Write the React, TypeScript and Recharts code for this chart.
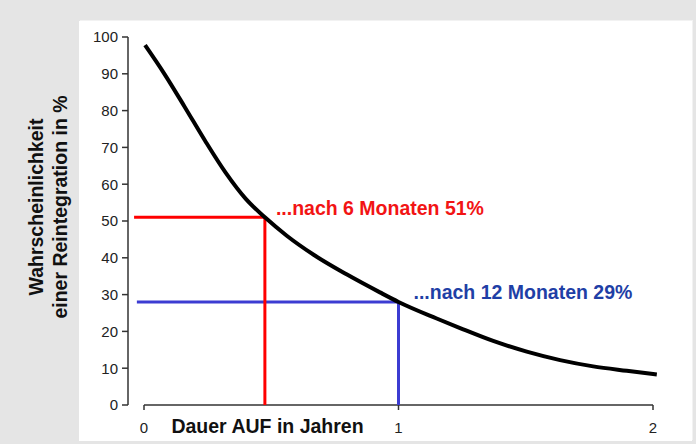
import { ComposedChart, Line, XAxis, YAxis, ReferenceLine, ReferenceDot } from "recharts";

// Dauer der Arbeitsunfähigkeit (Jahre) vs. Wahrscheinlichkeit einer Reintegration (%)
const YEARS = [0.004, 0.08, 0.16, 0.24, 0.32, 0.4, 0.475, 0.561, 0.665, 0.796, 0.927, 1.0, 1.15, 1.242, 1.372, 1.504, 1.635, 1.765, 1.897, 2.015];
const PERCENT = [97.8, 90.0, 81.0, 71.8, 63.2, 56.0, 51.0, 46.0, 40.9, 35.5, 30.6, 28.0, 23.5, 20.9, 17.4, 14.5, 12.2, 10.5, 9.3, 8.3];

const X_TICKS = [0, 1, 2];
const Y_TICKS = [0, 10, 20, 30, 40, 50, 60, 70, 80, 90, 100];

// markers: 6 and 12 months
const MARK_YEARS = [0.475, 1.0];
const MARK_PERCENT = [51, 28];
const MARK_LINE_START = [-0.039, -0.028];
const MARK_TEXT = ["...nach 6 Monaten 51%", "...nach 12 Monaten 29%"];
const MARK_LINE_COLOR = ["#ff0000", "#3c3cd2"];
const MARK_TEXT_COLOR = ["#f21414", "#1f3fa6"];
const MARK_TEXT_OFFSET = [
	[11, -2],
	[15, -3],
];

const FONT = '"Liberation Sans", Arial, Helvetica, sans-serif';
const PX_PER_YEAR = 254.5;

const data = YEARS.map((year, i) => ({ year, pct: PERCENT[i] }));

function YLabel({ viewBox }: any) {
	const x0 = viewBox?.x ?? 80;
	const cy = (viewBox?.y ?? 37) + (viewBox?.height ?? 368) / 2 - 14;
	const line = (x: number, text: string) => (
		<text
			x={x}
			y={cy}
			transform={`rotate(-90, ${x}, ${cy})`}
			textAnchor="middle"
			fontSize={19.5}
			fontWeight="bold"
			fill="#111"
			fontFamily={FONT}
		>
			{text}
		</text>
	);
	return (
		<g>
			{line(x0 - 37, "Wahrscheinlichkeit")}
			{line(x0 - 13.5, "einer Reintegration in %")}
		</g>
	);
}

function XLabel({ viewBox }: any) {
	const x = (viewBox?.x ?? 128) + 139.5;
	const y = (viewBox?.y ?? 405) + 28;
	return (
		<text x={x} y={y} textAnchor="middle" fontSize={19.5} fontWeight="bold" fill="#111" fontFamily={FONT}>
			Dauer AUF in Jahren
		</text>
	);
}

export default function App() {
	const left = 128;
	const right = 684;
	const xMin = (left - 144) / PX_PER_YEAR;
	const xMax = (right - 144) / PX_PER_YEAR;

	return (
		<div style={{ position: "absolute", left: 0, top: 0, width: 696, height: 444, background: "#e5e5e5", overflow: "hidden" }}>
			<div
				style={{
					position: "absolute",
					left: 79,
					top: 21,
					width: 613,
					height: 420,
					background: "#ffffff",
					boxShadow: "1px -1px 0 #f2f2f2",
				}}
			/>
			<div style={{ position: "absolute", left: 0, top: 0 }}>
				<ComposedChart
					width={696}
					height={444}
					data={data}
					margin={{ top: 37, right: 696 - right, bottom: 9, left: 80 }}
					style={{ fontFamily: FONT }}
				>
					<XAxis
						type="number"
						dataKey="year"
						domain={[xMin, xMax]}
						allowDataOverflow
						ticks={X_TICKS}
						height={30}
						axisLine={false}
						tickLine={{ stroke: "#333", strokeWidth: 1.5 }}
						tickSize={5}
						tickMargin={12}
						tick={{ fontSize: 15, fill: "#222" }}
						label={{ content: (p: any) => <XLabel {...p} /> }}
					/>
					<YAxis
						type="number"
						domain={[0, 100]}
						ticks={Y_TICKS}
						width={48}
						axisLine={{ stroke: "#333", strokeWidth: 1.5 }}
						tickLine={{ stroke: "#333", strokeWidth: 1.5 }}
						tickSize={6}
						tickMargin={4}
						tick={{ fontSize: 15, fill: "#222" }}
						label={{ content: (p: any) => <YLabel {...p} /> }}
					/>
					<ReferenceLine
						segment={[
							{ x: 0, y: 0 },
							{ x: 2, y: 0 },
						]}
						stroke="#333"
						strokeWidth={1.5}
						ifOverflow="visible"
					/>
					{MARK_YEARS.map((my, i) => (
						<ReferenceLine
							key={`h${i}`}
							segment={[
								{ x: MARK_LINE_START[i], y: MARK_PERCENT[i] },
								{ x: my, y: MARK_PERCENT[i] },
							]}
							stroke={MARK_LINE_COLOR[i]}
							strokeWidth={3}
							ifOverflow="visible"
						/>
					))}
					{MARK_YEARS.map((my, i) => (
						<ReferenceLine
							key={`v${i}`}
							segment={[
								{ x: my, y: MARK_PERCENT[i] },
								{ x: my, y: 0 },
							]}
							stroke={MARK_LINE_COLOR[i]}
							strokeWidth={3}
							ifOverflow="visible"
						/>
					))}
					<Line
						type="monotone"
						dataKey="pct"
						stroke="#000"
						strokeWidth={4}
						dot={false}
						activeDot={false}
						isAnimationActive={false}
					/>
					{MARK_YEARS.map((my, i) => (
						<ReferenceDot
							key={`t${i}`}
							x={my}
							y={MARK_PERCENT[i]}
							r={0}
							fill="none"
							stroke="none"
							ifOverflow="visible"
							label={{
								content: (p: any) => (
									<text
										x={(p.viewBox?.x ?? 0) + MARK_TEXT_OFFSET[i][0]}
										y={(p.viewBox?.y ?? 0) + MARK_TEXT_OFFSET[i][1]}
										fontSize={19.5}
										fontWeight="bold"
										fill={MARK_TEXT_COLOR[i]}
										fontFamily={FONT}
									>
										{MARK_TEXT[i]}
									</text>
								),
							}}
						/>
					))}
				</ComposedChart>
			</div>
		</div>
	);
}
